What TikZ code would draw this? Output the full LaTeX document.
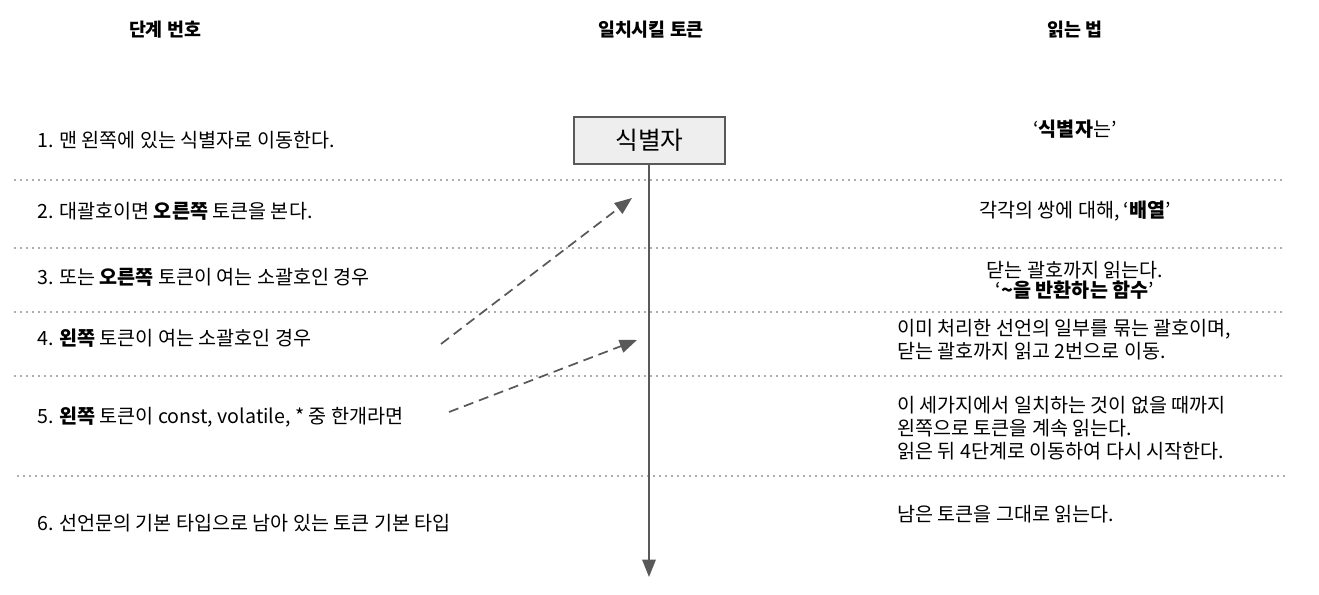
\documentclass[tikz,border=0pt]{standalone}
\usepackage{fontspec}
\setmainfont{Noto Sans CJK KR}
\usetikzlibrary{arrows.meta,positioning}
\definecolor{tk-line}{HTML}{595959}
\definecolor{tk-fill}{HTML}{EEEEEE}

\begin{document}
\begin{tikzpicture}[x=0.75pt, y=-0.75pt, >={Triangle[length=13pt,width=10pt]},
    head/.style={font=\fontsize{13.8}{16}\selectfont\bfseries},
    stepline/.style={anchor=west, inner sep=0pt, font=\fontsize{14.7}{17}\selectfont},
    howread/.style={inner sep=0pt, font=\fontsize{14.7}{17.5}\selectfont},
    sepline/.style={tk-line, line width=1.3pt, line cap=round, dash pattern=on 0pt off 4.5pt},
    jump/.style={->, tk-line, line width=1.3pt, dash pattern=on 7.5pt off 4.5pt}]
    \useasboundingbox (0,0) rectangle (1319,595);

    % column heads
    \node[head] (h1) at (165,30) {단계 번호};
    \node[head] (h2) at (651,30) {일치시킬 토큰};
    \node[head] (h3) at (1075,30) {읽는 법};

    % token box and main arrow
    \node[draw=tk-line, fill=tk-fill, line width=1.3pt, minimum width=113pt, minimum height=35pt,
          font=\fontsize{18.5}{22}\selectfont] (ident) at (649.5,140.5) {식별자};
    \coordinate (bottom) at (649,577);
    \draw[->, tk-line, line width=1.5pt] (ident.south -| bottom) -- (bottom);

    % separators
    \foreach \y in {180,248,312,376} {
        \draw[sepline] (15,\y) -- (1282,\y);
    }
    \draw[sepline] (18,476) -- (1285,476);

    % steps
    \node[stepline] (s1) at (37,140) {1. 맨 왼쪽에 있는 식별자로 이동한다.};
    \node[stepline] (s2) at (37,211) {2. 대괄호이면 \textbf{오른쪽} 토큰을 본다.};
    \node[stepline] (s3) at (37,277) {3. 또는 \textbf{오른쪽} 토큰이 여는 소괄호인 경우};
    \node[stepline] (s4) at (37,338) {4. \textbf{왼쪽} 토큰이 여는 소괄호인 경우};
    \node[stepline] (s5) at (37,417) {5. \textbf{왼쪽} 토큰이 const, volatile, * 중 한개라면};
    \node[stepline] (s6) at (37,523) {6. 선언문의 기본 타입으로 남아 있는 토큰 기본 타입};

    % how to read
    \node[howread] (r1) at (1075,129) {‘\textbf{식별자}는’};
    \node[howread] (r2) at (1075,211) {각각의 쌍에 대해, ‘\textbf{배열}’};
    \node[howread, align=center, font=\fontsize{14.7}{15}\selectfont] (r3) at (1075,280) {닫는 괄호까지 읽는다.\\‘\textbf{\textasciitilde 을 반환하는 함수}’};
    \node[howread, align=left, anchor=west] (r4) at (897,340) {이미 처리한 선언의 일부를 묶는 괄호이며,\\닫는 괄호까지 읽고 2번으로 이동.};
    \node[howread, align=left, anchor=west] (r5) at (897,428) {이 세가지에서 일치하는 것이 없을 때까지\\왼쪽으로 토큰을 계속 읽는다.\\읽은 뒤 4단계로 이동하여 다시 시작한다.};
    \node[howread, anchor=west] (r6) at (897,514) {남은 토큰을 그대로 읽는다.};

    % jumps back
    \coordinate (j1a) at (441,344);
    \coordinate (j1b) at (632,198);
    \coordinate (j2a) at (449,412);
    \coordinate (j2b) at (637,340);
    \draw[jump] (j1a) -- (j1b);
    \draw[jump] (j2a) -- (j2b);
\end{tikzpicture}
\end{document}
